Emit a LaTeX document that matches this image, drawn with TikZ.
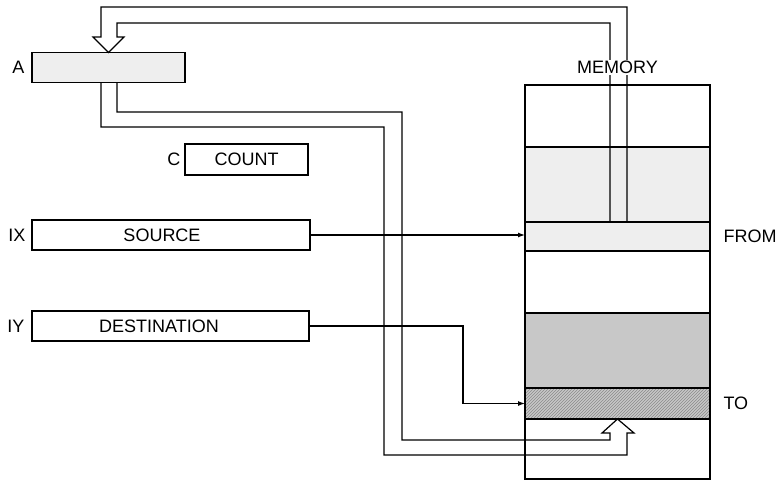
\documentclass[tikz,border=0pt]{standalone}
\usepackage{fontspec}
\setmainfont{Liberation Sans}
\usetikzlibrary{arrows.meta,positioning,calc,patterns}
\definecolor{memLight}{HTML}{EEEEEE}
\definecolor{memDark}{HTML}{C8C8C8}
\definecolor{memHatch}{HTML}{8A8A8A}

\begin{document}
\begin{tikzpicture}[
    x=1pt, y=-1pt,
    >={Latex[length=7pt,width=5pt]},
    reg/.style={draw, line width=1.3pt, inner sep=0pt, outer sep=0pt,
                minimum height=30pt, font=\fontsize{18}{20}\selectfont},
    cell/.style={draw, line width=1.3pt, inner sep=0pt, outer sep=0pt,
                 minimum width=185pt},
    lbl/.style={font=\fontsize{18}{20}\selectfont},
    link/.style={line width=1.2pt},
    fat/.style={line width=1.2pt, line join=miter},
  ]
  \useasboundingbox (0,0) rectangle (783,481);

  % memory column
  \node[cell, minimum height=62pt] (m1) at (617.5,116) {};
  \node[cell, minimum height=75pt, fill=memLight] (m2) at (617.5,184.5) {};
  \node[cell, minimum height=29pt, fill=memLight,
        label={[lbl,label distance=10pt]right:FROM}] (from) at (617.5,236.5) {};
  \node[cell, minimum height=62pt] (m4) at (617.5,282) {};
  \node[cell, minimum height=75pt, fill=memDark] (m5) at (617.5,350.5) {};
  \node[cell, minimum height=31pt, preaction={fill=memDark},
        pattern=north east lines, pattern color=memHatch,
        label={[lbl,label distance=10pt]right:TO}] (to) at (617.5,403.5) {};
  \node[cell, minimum height=60pt] (m7) at (617.5,449) {};

  % registers
  \node[reg, minimum width=153pt, fill=memLight,
        label={[lbl,label distance=4pt]left:A}] (regA) at (108.5,67.5) {};
  \node[reg, minimum width=123pt, minimum height=31pt,
        label={[lbl,label distance=1pt]left:C}] (regC) at (246.5,159.5) {COUNT};
  \node[reg, minimum width=278pt,
        label={[lbl,label distance=3pt]left:IX}] (regIX) at (171,235) {SOURCE\hspace*{18pt}};
  \node[reg, minimum width=277pt,
        label={[lbl,label distance=4pt]left:IY}] (regIY) at (170.5,326) {DESTINATION\hspace*{23pt}};

  % pointers
  \draw[link, ->] (regIX.east) -- (regIX.east -| from.west);
  \draw[link, ->] (regIY.east) -- ++(154,0) |- (to.west);

  % load: memory -> A
  \coordinate (ldL) at ([xshift=-7.5pt]m2.south);
  \coordinate (ldR) at ([xshift=9.5pt]m2.south);
  \draw[fat] (ldL) |- (117,23) -- (117,37) -- (124,37) -- (regA.north)
    -- (93,37) -- (101,37) -- (101,7) -| (ldR);

  % store: A -> memory
  \coordinate (stL) at ([xshift=-7.5pt]regA.south);
  \coordinate (stR) at ([xshift=8.5pt]regA.south);
  \draw[fat] (stL) |- (384,127) |- (627,455) -- (627,433) -- (634,433)
    -- (to.south) -- (602,433) -- (610,433) -- (610,440) -| (402,112) -| (stR);

  \node[lbl, fill=white, inner sep=1pt, above=10pt of m1] (memlbl) {MEMORY};

\end{tikzpicture}
\end{document}
